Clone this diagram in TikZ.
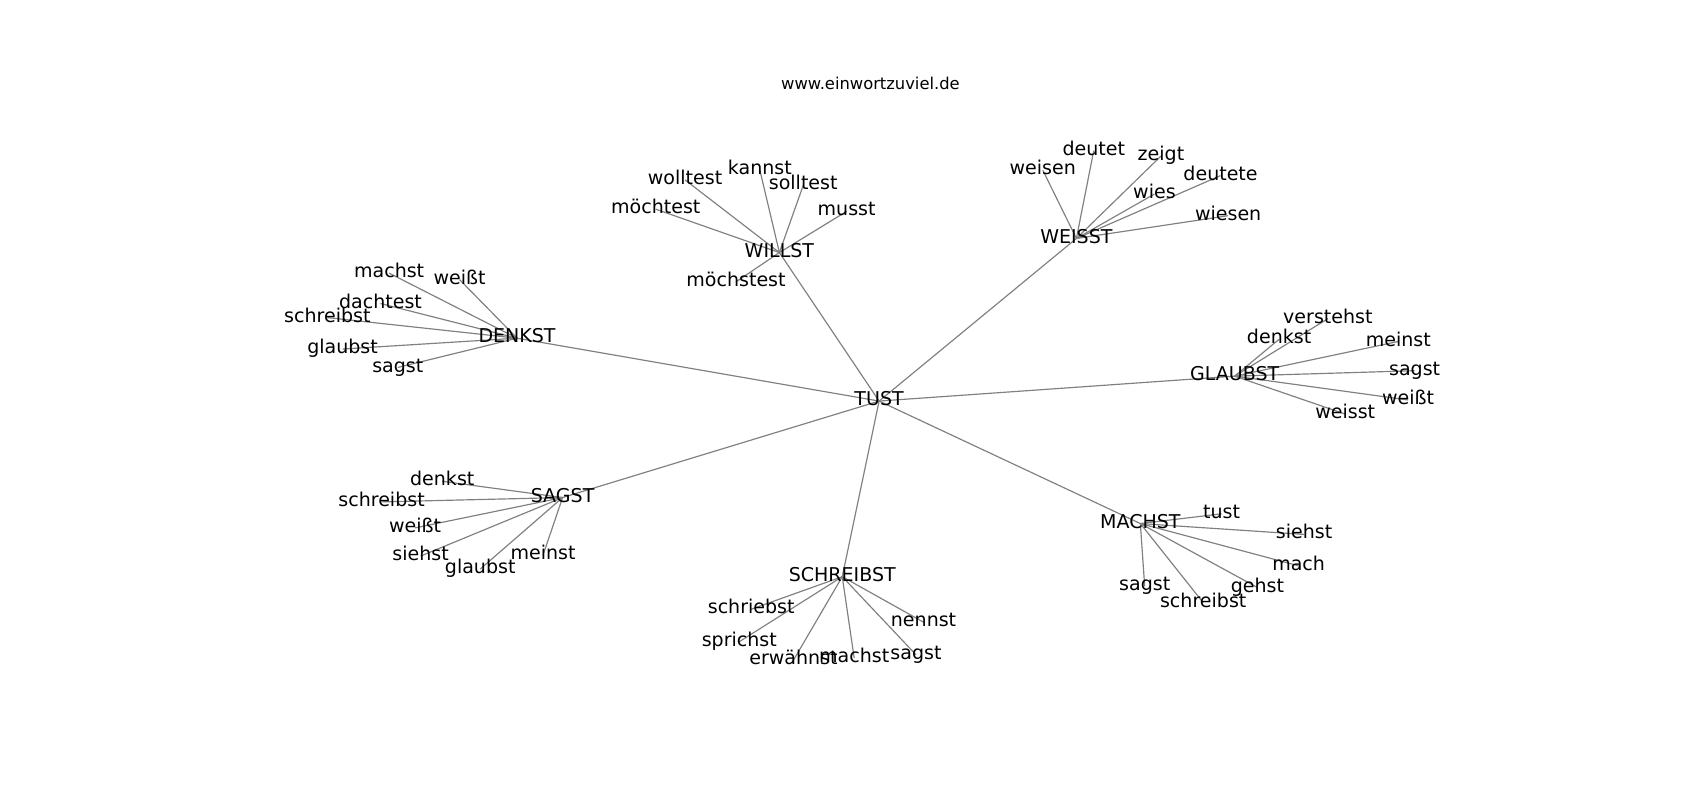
\documentclass[tikz,border=0pt]{standalone}
\usepackage{fontspec}
\setmainfont{DejaVu Sans}
\pgfdeclarelayer{bg}
\pgfsetlayers{bg,main}
\tikzset{
  word/.style={inner sep=0pt, text height=9.9pt, text depth=3.3pt, font=\fontsize{13.75}{16}\selectfont},
  heading/.style={inner sep=0pt, font=\fontsize{11.8}{14}\selectfont},
  link/.style={draw=gray, line width=0.85pt}
}
\begin{document}
\begin{tikzpicture}[x=0.02753cm,y=-0.02753cm]
\useasboundingbox (0,-2) rectangle (1568.3,736);

\node[heading] (title) at (803,75) {www.einwortzuviel.de};

% hubs
\node[word] (tust) at (811,368) {TUST};
\node[word] (denkst) at (477,310) {DENKST};
\node[word] (willst) at (719,231) {WILLST};
\node[word] (weisst) at (993,218) {WEISST};
\node[word] (glaubst) at (1139,345) {GLAUBST};
\node[word] (sagst) at (519,457) {SAGST};
\node[word] (schreibst) at (777,530) {SCHREIBST};
\node[word] (machst) at (1052,481) {MACHST};

% DENKST
\node[word] (dk1) at (359,250) {machst};
\node[word] (dk2) at (424,256) {weißt};
\node[word] (dk3) at (351,278) {dachtest};
\node[word] (dk4) at (302,291) {schreibst};
\node[word] (dk5) at (316,320) {glaubst};
\node[word] (dk6) at (367,337) {sagst};

% WILLST
\node[word] (wl1) at (632,164) {wolltest};
\node[word] (wl2) at (701,155) {kannst};
\node[word] (wl3) at (741,169) {solltest};
\node[word] (wl4) at (605,191) {möchtest};
\node[word] (wl5) at (781,193) {musst};
\node[word] (wl6) at (679,258) {möchstest};

% WEISST
\node[word] (ws1) at (962,155) {weisen};
\node[word] (ws2) at (1009,137) {deutet};
\node[word] (ws3) at (1071,142) {zeigt};
\node[word] (ws4) at (1126,160) {deutete};
\node[word] (ws5) at (1065,177) {wies};
\node[word] (ws6) at (1133,197) {wiesen};

% GLAUBST
\node[word] (gl1) at (1225,292) {verstehst};
\node[word] (gl2) at (1180,311) {denkst};
\node[word] (gl3) at (1290,313) {meinst};
\node[word] (gl4) at (1305,340) {sagst};
\node[word] (gl5) at (1299,367) {weißt};
\node[word] (gl6) at (1241,380) {weisst};

% SAGST
\node[word] (sg1) at (408,442) {denkst};
\node[word] (sg2) at (352,461) {schreibst};
\node[word] (sg3) at (383,485) {weißt};
\node[word] (sg4) at (388,511) {siehst};
\node[word] (sg5) at (443,523) {glaubst};
\node[word] (sg6) at (501,510) {meinst};

% SCHREIBST
\node[word] (sb1) at (693,560) {schriebst};
\node[word] (sb2) at (682,590) {sprichst};
\node[word] (sb3) at (732,607) {erwähnst};
\node[word] (sb4) at (788,605) {machst};
\node[word] (sb5) at (852,572) {nennst};
\node[word] (sb6) at (845,602) {sagst};

% MACHST
\node[word] (mc1) at (1127,472) {tust};
\node[word] (mc2) at (1203,491) {siehst};
\node[word] (mc3) at (1198,520) {mach};
\node[word] (mc4) at (1160,540) {gehst};
\node[word] (mc5) at (1110,554) {schreibst};
\node[word] (mc6) at (1056,539) {sagst};

\begin{pgfonlayer}{bg}
\foreach \hub in {denkst,willst,weisst,glaubst,sagst,schreibst,machst}
  \path[link] (tust.center) edge (\hub.center);
\foreach \leaf in {dk1,dk2,dk3,dk4,dk5,dk6}
  \path[link] (denkst.center) edge (\leaf.center);
\foreach \leaf in {wl1,wl2,wl3,wl4,wl5,wl6}
  \path[link] (willst.center) edge (\leaf.center);
\foreach \leaf in {ws1,ws2,ws3,ws4,ws5,ws6}
  \path[link] (weisst.center) edge (\leaf.center);
\foreach \leaf in {gl1,gl2,gl3,gl4,gl5,gl6}
  \path[link] (glaubst.center) edge (\leaf.center);
\foreach \leaf in {sg1,sg2,sg3,sg4,sg5,sg6}
  \path[link] (sagst.center) edge (\leaf.center);
\foreach \leaf in {sb1,sb2,sb3,sb4,sb5,sb6}
  \path[link] (schreibst.center) edge (\leaf.center);
\foreach \leaf in {mc1,mc2,mc3,mc4,mc5,mc6}
  \path[link] (machst.center) edge (\leaf.center);
\end{pgfonlayer}
\end{tikzpicture}
\end{document}
